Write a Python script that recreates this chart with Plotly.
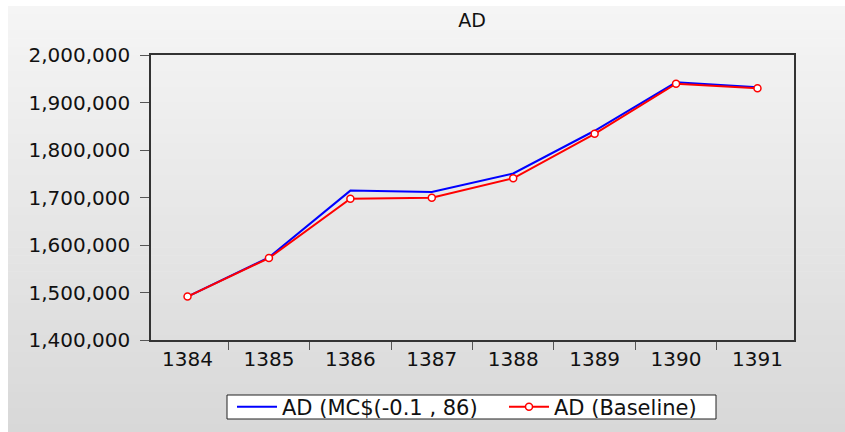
import plotly.graph_objects as go

years = ["1384", "1385", "1386", "1387", "1388", "1389", "1390", "1391"]
ad_mc = [1491500, 1574000, 1714500, 1711500, 1750500, 1840500, 1942500, 1932000]
ad_base = [1491500, 1572500, 1697500, 1699500, 1740500, 1834000, 1939500, 1930000]
name_mc = "AD (MC$(-0.1 , 86)"
name_base = "AD (Baseline)"
title_text = "AD"

W, H = 845, 432
L, T = 151, 55
R, B = W - 794, H - 340
pw, ph = W - L - R, H - T - B

def px_x(x):
    return (x - L) / pw

def px_y(y):
    return (H - B - y) / ph

FONT = "DejaVu Sans"

fig = go.Figure()
fig.add_trace(go.Scatter(x=years, y=ad_mc, name=name_mc, mode="lines",
                         line=dict(color="#0000ff", width=2), legend="legend"))
fig.add_trace(go.Scatter(x=years, y=ad_base, name=name_base, mode="lines+markers",
                         line=dict(color="#ff0000", width=2),
                         marker=dict(symbol="circle", size=7, color="white",
                                     line=dict(color="#ff0000", width=1.5)),
                         legend="legend2"))

# vertical gradient background made of thin strips
shapes = []
top, bot = 6, H
n = 53
for i in range(n):
    y0 = top + (bot - top) * i / n
    y1 = top + (bot - top) * (i + 1) / n
    t = ((y0 + y1) / 2 - top) / (bot - top)
    c = int(round(245 - (245 - 216) * t))
    shapes.append(dict(type="rect", xref="paper", yref="paper",
                       x0=px_x(8), x1=px_x(W + 5), y0=px_y(min(y1 + 0.6, H + 5)), y1=px_y(y0),
                       fillcolor=f"rgb({c},{c},{c})", line=dict(width=0), layer="below"))
# legend frame
shapes.append(dict(type="rect", xref="paper", yref="paper",
                   x0=px_x(227), x1=px_x(716), y0=px_y(419), y1=px_y(395),
                   fillcolor="white", line=dict(color="#222222", width=1), layer="below"))

leg_common = dict(orientation="h", yanchor="middle", y=px_y(407), xanchor="left",
                  bgcolor="rgba(0,0,0,0)", borderwidth=0,
                  font=dict(family=FONT, size=21, color="#111111"), itemwidth=40)

fig.update_layout(
    width=W, height=H,
    margin=dict(l=L, r=R, t=T, b=B, autoexpand=False),
    paper_bgcolor="white", plot_bgcolor="white",
    shapes=shapes,
    font=dict(family=FONT, color="#111111", size=20),
    title=dict(text=title_text, xref="container", x=472 / W, xanchor="center",
               yref="container", y=1 - 20 / H, yanchor="middle",
               font=dict(family=FONT, size=19, color="#111111")),
    showlegend=True,
    legend=dict(x=px_x(232), **leg_common),
    legend2=dict(x=px_x(504), **leg_common),
)
fig.update_xaxes(type="category", tickson="boundaries", ticks="outside", ticklen=8,
                 tickcolor="#555555", showline=True, linecolor="#333333", mirror=True,
                 linewidth=1.5, showgrid=False, zeroline=False, automargin=False)
fig.update_yaxes(range=[1400000, 2000000], dtick=100000, tickformat=",d",
                 ticks="outside", ticklen=9, tickcolor="#555555", showline=True,
                 linecolor="#333333", mirror=True, linewidth=1.5, showgrid=False,
                 zeroline=False, automargin=False, ticklabelstandoff=6)

fig.write_html("out.html",
               config={"displayModeBar": False},
               post_script="document.body.style.margin='0';"
                           "document.documentElement.style.overflow='hidden';"
                           "document.body.style.overflow='hidden';")
